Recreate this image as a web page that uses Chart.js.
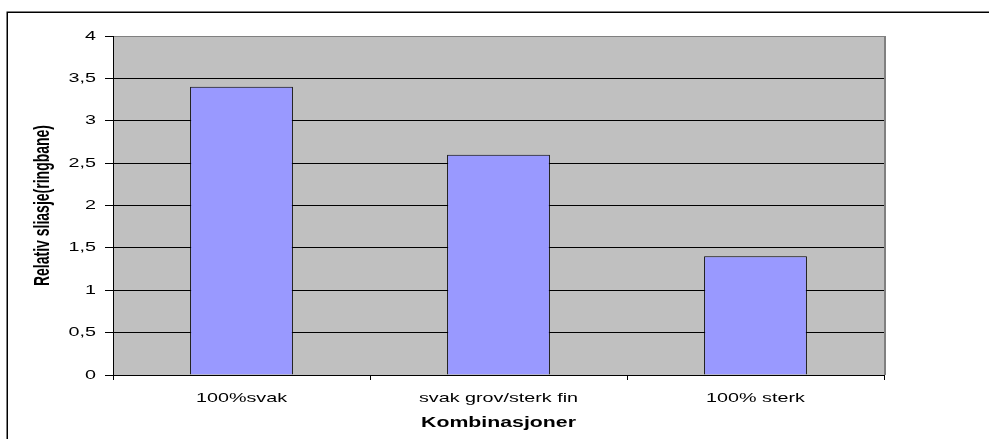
<!DOCTYPE html>
<html>
<head>
<meta charset="utf-8">
<script src="https://cdn.jsdelivr.net/npm/chart.js@4/dist/chart.umd.min.js"></script>
<style>
  body { margin: 0; background: #fff; }
  #wrap { width: 989px; height: 439px; position: relative; }
</style>
</head>
<body>
<div id="wrap"><canvas id="canvas"></canvas></div>
<script>

let categories = ['100%svak', 'svak grov/sterk fin', '100% sterk'];
let values = [3.4, 2.6, 1.4];
let yTicks = [0, 0.5, 1, 1.5, 2, 2.5, 3, 3.5, 4];

let font = 'Liberation Sans, Arial, sans-serif';

// the old chart was stretched sideways, so its text is wide too
let stretch = 1.52;

let canvas = document.getElementById('canvas');
let ctx2d = canvas.getContext('2d');
let plainFillText = ctx2d.fillText;
ctx2d.fillText = function(text, x, y, maxWidth) {
  let m = this.getTransform();
  this.save();
  this.translate(x, y);
  if (Math.abs(m.b) > 0.5) {
    this.scale(1, stretch);   // rotated text: widen across the line
  } else {
    this.scale(stretch, 1);
  }
  if (maxWidth === undefined) {
    plainFillText.call(this, text, 0, 0);
  } else {
    plainFillText.call(this, text, 0, 0, maxWidth);
  }
  this.restore();
};

// grey plot area, frame and the outer box round the whole thing
let frame = {
  id: 'frame',
  beforeDraw: function(chart) {
    let ctx = chart.ctx;
    let a = chart.chartArea;
    ctx.save();
    ctx.fillStyle = '#C0C0C0';
    ctx.fillRect(a.left, a.top, a.right - a.left, a.bottom - a.top);
    ctx.strokeStyle = '#808080';
    ctx.lineWidth = 1;
    ctx.strokeRect(a.left + 0.5, a.top + 0.5, a.right - a.left, a.bottom - a.top);
    ctx.lineWidth = 2;
    ctx.beginPath();
    ctx.moveTo(a.right + 1, a.top);
    ctx.lineTo(a.right + 1, a.bottom);
    ctx.stroke();
    ctx.restore();
  },
  afterDraw: function(chart) {
    let ctx = chart.ctx;
    ctx.save();
    ctx.strokeStyle = '#000';
    ctx.lineWidth = 1.5;
    ctx.strokeRect(7.25, 12.25, 1200, 1200);
    ctx.restore();
  }
};

let options = {
  type: 'bar',
  data: {
    labels: categories,
    datasets: [{
      data: values,
      backgroundColor: '#9999FF',
      borderColor: '#000',
      borderWidth: 1,
      barPercentage: 0.4,
      categoryPercentage: 1
    }]
  },
  options: {
    responsive: true,
    maintainAspectRatio: false,
    animation: false,
    layout: {
      padding: { left: 20, top: 36, right: 105, bottom: 0 }
    },
    plugins: {
      legend: { display: false },
      tooltip: { enabled: false }
    },
    scales: {
      x: {
        grid: {
          drawOnChartArea: false,
          color: '#000',
          tickLength: 5
        },
        border: { color: '#000', width: 1 },
        ticks: {
          color: '#000',
          maxRotation: 0,
          autoSkip: false,
          padding: 11,
          font: { family: font, size: 13 }
        },
        title: {
          display: true,
          text: 'Kombinasjoner',
          color: '#000',
          padding: { top: 0, bottom: 7 },
          font: { family: font, size: 14, weight: 'bold' }
        },
        afterFit: function(scale) { scale.height = 64; }
      },
      y: {
        min: 0,
        max: 4,
        afterBuildTicks: function(scale) {
          scale.ticks = yTicks.map(function(v) { return { value: v }; });
        },
        grid: {
          color: function(c) { return c.tick && c.tick.value === 4 ? '#808080' : '#000'; },
          tickColor: '#000',
          tickLength: 8
        },
        border: { color: '#000', width: 1 },
        ticks: {
          color: '#000',
          padding: 9,
          font: { family: font, size: 13 },
          callback: function(v) { return String(v).replace('.', ','); }
        },
        title: {
          display: true,
          text: 'Relativ sliasje(ringbane)',
          color: '#000',
          padding: { top: 15, bottom: 0 },
          font: { family: font, size: 14, weight: 'bold' }
        },
        afterFit: function(scale) { scale.width = 93; }
      }
    }
  },
  plugins: [frame]
};

let chart = new Chart(canvas, options);
</script>
</body>
</html>
